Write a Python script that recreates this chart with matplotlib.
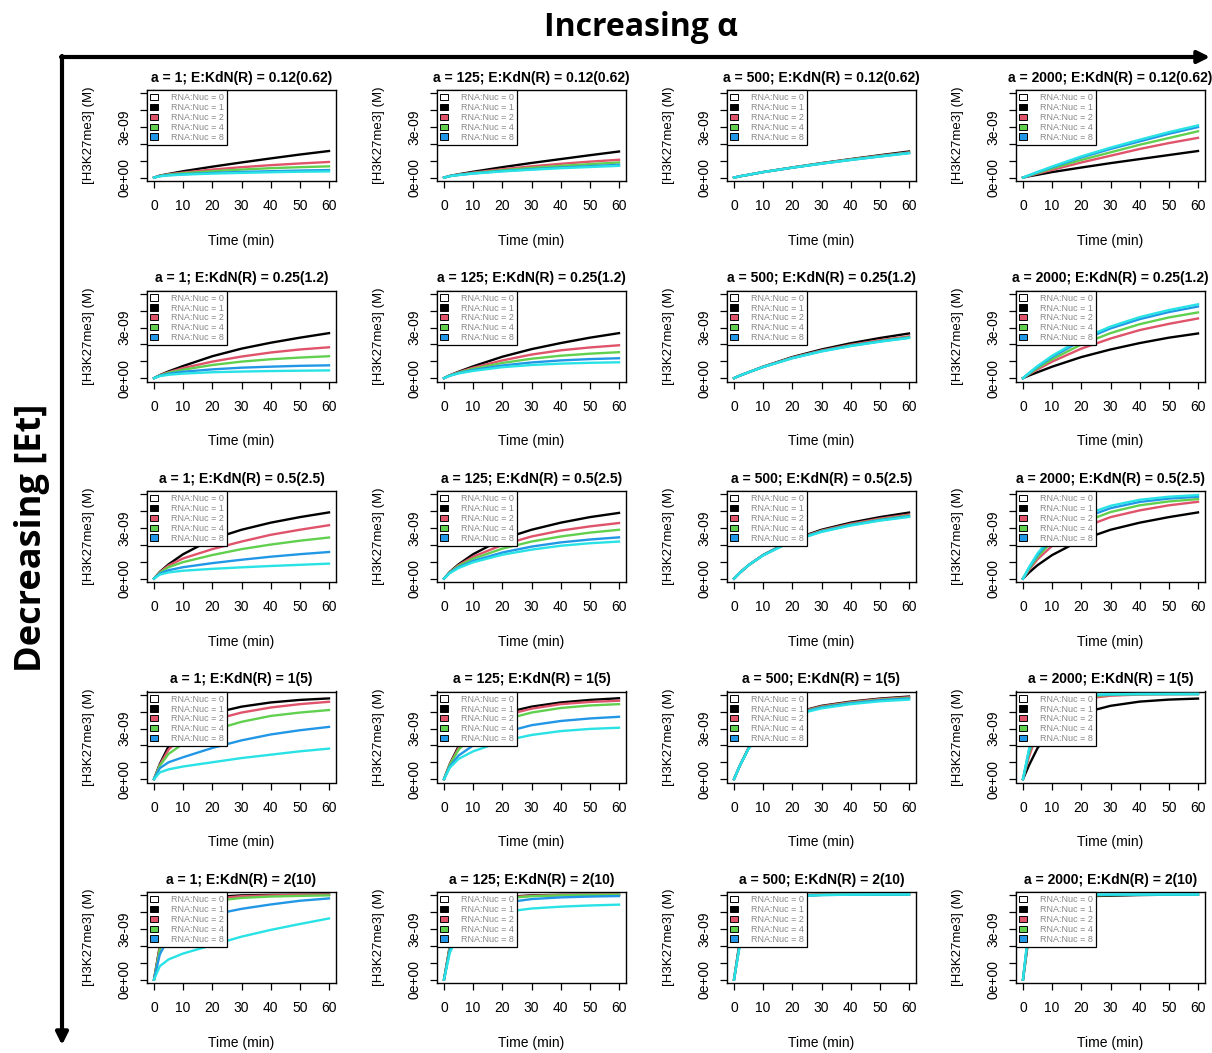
import matplotlib
matplotlib.use("Agg")
import matplotlib.pyplot as plt
from matplotlib.patches import Patch

# ---------------- data (values in units of 1e-9 M) ----------------
times = [0, 2, 5, 10, 20, 30, 40, 50, 60]
alphas = ["1", "125", "500", "2000"]
kdn_labels = ["0.12(0.62)", "0.25(1.2)", "0.5(2.5)", "1(5)", "2(10)"]
rna_labels = ["RNA:Nuc = 0", "RNA:Nuc = 1", "RNA:Nuc = 2", "RNA:Nuc = 4", "RNA:Nuc = 8"]
line_colors = ["#000000", "#DF536B", "#61D04F", "#2297E6", "#28E2E5"]
legend_fills = ["#FFFFFF", "#000000", "#DF536B", "#61D04F", "#2297E6"]
ytick_vals = [0, 1, 2, 3, 4, 5]
ytick_labels = ["0e+00", "", "", "3e-09", "", ""]
xtick_vals = [0, 10, 20, 30, 40, 50, 60]

# row 1: E:KdN(R) = 0.12(0.62)
r1c1 = [[0, 0.12, 0.22, 0.38, 0.65, 0.90, 1.14, 1.37, 1.58],
        [0, 0.11, 0.20, 0.30, 0.48, 0.62, 0.74, 0.84, 0.93],
        [0, 0.10, 0.18, 0.26, 0.38, 0.48, 0.56, 0.62, 0.67],
        [0, 0.09, 0.15, 0.20, 0.28, 0.34, 0.38, 0.42, 0.45],
        [0, 0.08, 0.13, 0.18, 0.24, 0.28, 0.32, 0.35, 0.37]]
r1c2 = [[0, 0.10, 0.20, 0.35, 0.62, 0.87, 1.10, 1.33, 1.55],
        [0, 0.10, 0.18, 0.30, 0.50, 0.67, 0.82, 0.95, 1.06],
        [0, 0.09, 0.17, 0.27, 0.44, 0.58, 0.70, 0.80, 0.90],
        [0, 0.09, 0.16, 0.25, 0.39, 0.50, 0.60, 0.68, 0.76],
        [0, 0.09, 0.15, 0.24, 0.37, 0.47, 0.56, 0.63, 0.70]]
r1c3 = [[0, 0.08, 0.17, 0.33, 0.60, 0.86, 1.10, 1.33, 1.55],
        [0, 0.08, 0.17, 0.33, 0.60, 0.85, 1.08, 1.30, 1.50],
        [0, 0.08, 0.17, 0.33, 0.60, 0.84, 1.07, 1.28, 1.48],
        [0, 0.08, 0.17, 0.33, 0.59, 0.83, 1.05, 1.26, 1.46],
        [0, 0.08, 0.17, 0.33, 0.59, 0.83, 1.05, 1.25, 1.45]]
r1c4 = [[0, 0.08, 0.17, 0.33, 0.60, 0.86, 1.10, 1.34, 1.58],
        [0, 0.10, 0.24, 0.46, 0.90, 1.30, 1.70, 2.05, 2.36],
        [0, 0.12, 0.28, 0.55, 1.05, 1.50, 1.95, 2.35, 2.75],
        [0, 0.13, 0.32, 0.62, 1.20, 1.70, 2.15, 2.60, 3.00],
        [0, 0.14, 0.34, 0.66, 1.26, 1.78, 2.25, 2.70, 3.10]]
# row 2: E:KdN(R) = 0.25(1.2)
r2c1 = [[0, 0.18, 0.40, 0.72, 1.30, 1.75, 2.10, 2.40, 2.67],
        [0, 0.17, 0.35, 0.60, 0.98, 1.28, 1.52, 1.70, 1.83],
        [0, 0.16, 0.32, 0.50, 0.78, 0.98, 1.12, 1.22, 1.30],
        [0, 0.14, 0.26, 0.38, 0.52, 0.62, 0.68, 0.73, 0.76],
        [0, 0.12, 0.20, 0.27, 0.35, 0.39, 0.42, 0.44, 0.46]]
r2c2 = [[0, 0.17, 0.38, 0.70, 1.27, 1.72, 2.08, 2.40, 2.67],
        [0, 0.16, 0.35, 0.62, 1.05, 1.40, 1.65, 1.82, 1.95],
        [0, 0.16, 0.33, 0.55, 0.90, 1.15, 1.33, 1.45, 1.54],
        [0, 0.15, 0.30, 0.48, 0.75, 0.93, 1.05, 1.13, 1.18],
        [0, 0.14, 0.28, 0.43, 0.65, 0.78, 0.86, 0.91, 0.94]]
r2c3 = [[0, 0.15, 0.35, 0.68, 1.25, 1.70, 2.07, 2.38, 2.65],
        [0, 0.15, 0.35, 0.67, 1.22, 1.64, 1.98, 2.25, 2.48],
        [0, 0.15, 0.35, 0.66, 1.20, 1.61, 1.94, 2.20, 2.43],
        [0, 0.15, 0.35, 0.66, 1.19, 1.60, 1.92, 2.18, 2.40],
        [0, 0.15, 0.35, 0.66, 1.18, 1.58, 1.90, 2.16, 2.38]]
r2c4 = [[0, 0.15, 0.35, 0.68, 1.25, 1.70, 2.08, 2.40, 2.65],
        [0, 0.22, 0.52, 0.98, 1.75, 2.35, 2.85, 3.22, 3.54],
        [0, 0.25, 0.60, 1.12, 2.00, 2.67, 3.20, 3.60, 3.90],
        [0, 0.28, 0.68, 1.26, 2.22, 2.95, 3.50, 3.92, 4.25],
        [0, 0.30, 0.72, 1.33, 2.32, 3.06, 3.62, 4.04, 4.38]]
# row 3: E:KdN(R) = 0.5(2.5)
r3c1 = [[0, 0.40, 0.85, 1.45, 2.35, 2.90, 3.32, 3.65, 3.93],
        [0, 0.38, 0.78, 1.20, 1.75, 2.20, 2.60, 2.90, 3.17],
        [0, 0.35, 0.68, 0.98, 1.40, 1.75, 2.02, 2.25, 2.44],
        [0, 0.30, 0.50, 0.68, 0.92, 1.12, 1.30, 1.45, 1.58],
        [0, 0.24, 0.37, 0.47, 0.58, 0.67, 0.75, 0.82, 0.89]]
r3c2 = [[0, 0.40, 0.85, 1.45, 2.35, 2.90, 3.32, 3.65, 3.90],
        [0, 0.38, 0.80, 1.30, 2.00, 2.50, 2.85, 3.10, 3.30],
        [0, 0.37, 0.75, 1.18, 1.78, 2.20, 2.50, 2.73, 2.90],
        [0, 0.35, 0.68, 1.05, 1.55, 1.90, 2.15, 2.32, 2.45],
        [0, 0.33, 0.63, 0.97, 1.42, 1.72, 1.95, 2.10, 2.20]]
r3c3 = [[0, 0.35, 0.80, 1.40, 2.30, 2.90, 3.32, 3.65, 3.92],
        [0, 0.35, 0.80, 1.40, 2.28, 2.85, 3.25, 3.56, 3.80],
        [0, 0.35, 0.80, 1.40, 2.26, 2.82, 3.20, 3.50, 3.74],
        [0, 0.35, 0.80, 1.40, 2.25, 2.80, 3.18, 3.47, 3.70],
        [0, 0.35, 0.80, 1.38, 2.22, 2.77, 3.15, 3.44, 3.66]]
r3c4 = [[0, 0.35, 0.80, 1.40, 2.30, 2.90, 3.32, 3.65, 3.93],
        [0, 0.50, 1.15, 1.95, 3.00, 3.65, 4.05, 4.35, 4.56],
        [0, 0.56, 1.30, 2.20, 3.30, 3.95, 4.35, 4.58, 4.72],
        [0, 0.62, 1.42, 2.40, 3.55, 4.18, 4.55, 4.75, 4.86],
        [0, 0.66, 1.50, 2.55, 3.72, 4.32, 4.68, 4.86, 4.96]]
# row 4: E:KdN(R) = 1(5)
r4c1 = [[0, 0.90, 1.95, 3.00, 3.90, 4.30, 4.55, 4.70, 4.79],
        [0, 0.85, 1.75, 2.60, 3.50, 3.95, 4.25, 4.45, 4.59],
        [0, 0.80, 1.50, 2.10, 2.90, 3.40, 3.75, 3.95, 4.10],
        [0, 0.65, 1.00, 1.30, 1.85, 2.30, 2.65, 2.90, 3.10],
        [0, 0.40, 0.58, 0.75, 1.00, 1.25, 1.45, 1.65, 1.81]]
r4c2 = [[0, 0.90, 1.95, 3.00, 3.90, 4.30, 4.55, 4.70, 4.80],
        [0, 0.88, 1.85, 2.80, 3.75, 4.18, 4.45, 4.58, 4.65],
        [0, 0.85, 1.75, 2.60, 3.50, 3.95, 4.22, 4.37, 4.45],
        [0, 0.75, 1.40, 2.00, 2.75, 3.20, 3.45, 3.60, 3.70],
        [0, 0.68, 1.20, 1.65, 2.25, 2.62, 2.85, 2.98, 3.05]]
r4c3 = [[0, 0.80, 1.85, 2.95, 3.90, 4.35, 4.60, 4.78, 4.90],
        [0, 0.80, 1.85, 2.93, 3.88, 4.32, 4.57, 4.75, 4.86],
        [0, 0.80, 1.83, 2.90, 3.85, 4.28, 4.53, 4.71, 4.82],
        [0, 0.80, 1.82, 2.88, 3.82, 4.25, 4.50, 4.68, 4.78],
        [0, 0.80, 1.80, 2.85, 3.78, 4.20, 4.45, 4.62, 4.72]]
r4c4 = [[0, 0.80, 1.85, 2.95, 3.90, 4.35, 4.60, 4.72, 4.78],
        [0, 1.30, 2.80, 4.00, 4.75, 4.95, 5.02, 5.04, 5.05],
        [0, 1.50, 3.10, 4.30, 4.88, 5.00, 5.04, 5.05, 5.05],
        [0, 1.65, 3.35, 4.50, 4.95, 5.03, 5.05, 5.05, 5.05],
        [0, 1.75, 3.50, 4.62, 4.98, 5.04, 5.05, 5.05, 5.05]]
# row 5: E:KdN(R) = 2(10)
r5c1 = [[0, 2.00, 3.60, 4.50, 4.90, 5.00, 5.03, 5.04, 5.05],
        [0, 1.90, 3.40, 4.30, 4.80, 4.95, 5.00, 5.03, 5.04],
        [0, 1.80, 3.20, 4.10, 4.65, 4.85, 4.93, 4.97, 5.00],
        [0, 1.50, 2.50, 3.20, 3.85, 4.20, 4.46, 4.68, 4.82],
        [0, 0.80, 1.20, 1.55, 2.05, 2.55, 2.95, 3.30, 3.63]]
r5c2 = [[0, 2.00, 3.60, 4.50, 4.90, 5.00, 5.03, 5.04, 5.05],
        [0, 1.95, 3.50, 4.40, 4.87, 4.98, 5.02, 5.04, 5.05],
        [0, 1.90, 3.40, 4.30, 4.82, 4.95, 5.00, 5.03, 5.04],
        [0, 1.75, 3.05, 3.95, 4.55, 4.78, 4.88, 4.93, 4.96],
        [0, 1.60, 2.70, 3.45, 4.00, 4.22, 4.33, 4.40, 4.45]]
r5c3 = [[0, 2.30, 4.00, 4.80, 5.00, 5.04, 5.05, 5.05, 5.05],
        [0, 2.20, 3.90, 4.75, 4.98, 5.03, 5.05, 5.05, 5.05],
        [0, 2.15, 3.85, 4.72, 4.97, 5.03, 5.05, 5.05, 5.05],
        [0, 2.10, 3.80, 4.70, 4.96, 5.02, 5.04, 5.05, 5.05],
        [0, 2.05, 3.75, 4.65, 4.95, 5.02, 5.04, 5.05, 5.05]]
r5c4 = [[0, 2.60, 4.40, 4.88, 4.95, 4.98, 5.02, 5.04, 5.05],
        [0, 2.80, 4.60, 4.95, 5.00, 5.03, 5.04, 5.05, 5.05],
        [0, 2.90, 4.70, 4.97, 5.00, 5.02, 5.04, 5.05, 5.05],
        [0, 3.00, 4.80, 5.00, 5.03, 5.04, 5.05, 5.05, 5.05],
        [0, 3.10, 4.85, 5.02, 5.04, 5.05, 5.05, 5.05, 5.05]]

panels = [[r1c1, r1c2, r1c3, r1c4],
          [r2c1, r2c2, r2c3, r2c4],
          [r3c1, r3c2, r3c3, r3c4],
          [r4c1, r4c2, r4c3, r4c4],
          [r5c1, r5c2, r5c3, r5c4]]

# ---------------- layout ----------------
W, H = 1212, 1053
fig = plt.figure(figsize=(W / 100, H / 100), dpi=100)
fig.patch.set_facecolor("white")
PF = ["Liberation Sans", "DejaVu Sans"]

col_left = [147, 437, 727, 1016]
row_top = [90, 290.5, 491, 691.5, 892]
BW, BH = 189, 91


def add_px_axes(left, top, w, h):
    return fig.add_axes([left / W, 1 - (top + h) / H, w / W, h / H])


for r in range(5):
    for c in range(4):
        ax = add_px_axes(col_left[c], row_top[r], BW, BH)
        series = panels[r][c]
        for k in range(5):
            ax.plot(times, series[k], color=line_colors[k], lw=1.7,
                    solid_joinstyle="round", zorder=2 + k)
        ax.set_xlim(-2.4, 62.4)
        ax.set_ylim(-0.2, 5.2)
        ax.set_xticks(xtick_vals)
        ax.set_xticklabels([str(v) for v in xtick_vals], fontsize=10, family=PF)
        ax.set_yticks(ytick_vals)
        ax.set_yticklabels(ytick_labels, fontsize=10, family=PF,
                           rotation=90, va="center")
        ax.tick_params(direction="out", length=5, width=0.9, color="black")
        ax.tick_params(axis="x", pad=8)
        ax.tick_params(axis="y", pad=6)
        for sp in ax.spines.values():
            sp.set_linewidth(1.0)
            sp.set_color("black")
        ax.set_title(f"a = {alphas[c]}; E:KdN(R) = {kdn_labels[r]}",
                     fontsize=10, fontweight="bold", family=PF, pad=6)
        ax.set_xlabel("Time (min)", fontsize=10, family=PF)
        ax.xaxis.set_label_coords(0.5, -0.58)
        ax.set_ylabel("[H3K27me3] (M)", fontsize=9.5, family=PF)
        ax.yaxis.set_label_coords(-0.275, 0.5)
        handles = [Patch(facecolor=legend_fills[k], edgecolor="black", lw=0.7)
                   for k in range(5)]
        leg = ax.legend(handles, rna_labels, loc="upper left",
                        bbox_to_anchor=(0, 1), borderaxespad=0,
                        prop={"family": PF, "size": 6.5},
                        labelcolor="#888888", handlelength=0.9,
                        handleheight=0.7, handletextpad=1.4,
                        labelspacing=0.1, borderpad=0.35,
                        fancybox=False, framealpha=1, edgecolor="black")
        leg.get_frame().set_linewidth(0.9)
        leg.set_zorder(20)

# ---------------- arrows & outer labels ----------------
ov = fig.add_axes([0, 0, 1, 1], zorder=-1)
ov.set_xlim(0, W)
ov.set_ylim(H, 0)
ov.axis("off")
ov.annotate("", xy=(1210, 57), xytext=(61, 57),
            arrowprops=dict(arrowstyle="-|>", lw=3, color="black",
                            mutation_scale=18, shrinkA=0, shrinkB=0))
ov.annotate("", xy=(62, 1045), xytext=(62, 56),
            arrowprops=dict(arrowstyle="-|>", lw=3, color="black",
                            mutation_scale=18, shrinkA=0, shrinkB=0))
ov.text(641, 28, "Increasing α", ha="center", va="center", fontsize=23,
        fontweight="bold", family=["Open Sans", "DejaVu Sans"])
ov.text(32, 538, "Decreasing [Et]", ha="center", va="center", rotation=90,
        fontsize=26, fontweight="bold", family=["Open Sans", "DejaVu Sans"])

fig.savefig("out.png", dpi=100, facecolor="white")
